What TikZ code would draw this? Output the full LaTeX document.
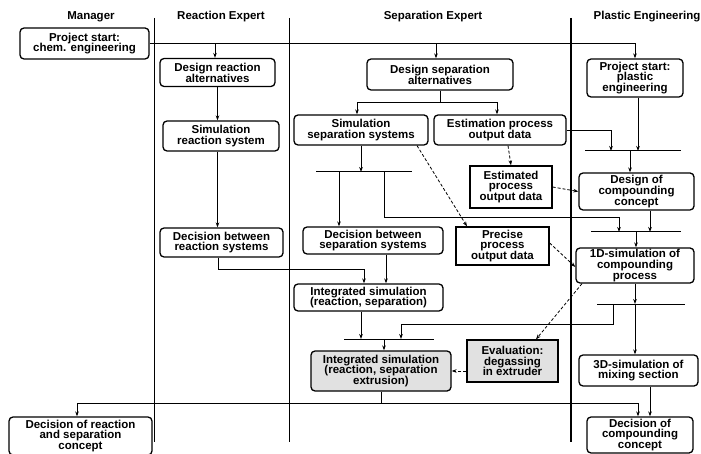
\documentclass[tikz,border=0pt]{standalone}
\usepackage{fontspec}
\setmainfont{Liberation Sans}
\usetikzlibrary{arrows.meta}
\definecolor{lgray}{RGB}{225,225,225}
\newcommand{\bxf}{\fontsize{11.5}{10.8}\selectfont\bfseries}
\tikzset{
  box/.style={draw, line width=1.3pt, rounded corners=4pt, fill=white, align=center, font=\bxf, inner sep=0pt},
  sqbox/.style={box, rounded corners=0pt},
  hdr/.style={font=\bxf, inner sep=0pt},
  arr/.style={-{Stealth[length=5pt,width=3.6pt]}, line width=0.8pt},
  darr/.style={arr, dash pattern=on 3pt off 2pt},
  plain/.style={line width=0.8pt},
  barline/.style={line width=1pt},
  lane/.style={line width=0.8pt},
  thicklane/.style={line width=2.6pt},
}
\begin{document}
\begin{tikzpicture}[x=1pt,y=-1pt]
\useasboundingbox (0,0) rectangle (701,454);
% lanes
\draw[lane] (154,18) -- (154,442);
\draw[lane] (289,18) -- (289,442);
\draw[thicklane] (571,18) -- (571,442);
% headers
\node[hdr] (h1) at (91,17) {Manager};
\node[hdr] (h2) at (221,17) {Reaction Expert};
\node[hdr] (h3) at (433,17) {Separation Expert};
\node[hdr] (h4) at (647,17) {Plastic Engineering};
% nodes
\node[box, minimum width=129pt, minimum height=31pt] (ps) at (84.5,43.5) {Project start:\\chem. engineering};
\node[box, minimum width=115pt, minimum height=28pt] (dra) at (217.5,72.5) {Design reaction\\alternatives};
\node[box, minimum width=116pt, minimum height=30pt] (srs) at (221,136) {Simulation\\reaction system};
\node[box, minimum width=123pt, minimum height=29pt] (dbr) at (221.5,242.5) {Decision between\\reaction systems};
\node[box, minimum width=146pt, minimum height=31pt] (dsa) at (440,74.5) {Design separation\\alternatives};
\node[box, minimum width=96pt, minimum height=38pt] (psp) at (635,78) {Project start:\\plastic\\engineering};
\node[box, minimum width=134pt, minimum height=30pt] (sss) at (361,130) {Simulation\\separation systems};
\node[box, minimum width=132pt, minimum height=30pt] (epo) at (500,130) {Estimation process\\output data};
\node[sqbox, minimum width=82pt, minimum height=42pt] (est) at (511,187) {Estimated\\process\\output data};
\node[box, minimum width=115pt, minimum height=37pt] (dcc) at (636.5,191.5) {Design of\\compounding\\concept};
\node[box, minimum width=140pt, minimum height=27pt] (dbs) at (373,240.5) {Decision between\\separation systems};
\node[sqbox, minimum width=93pt, minimum height=38pt] (ppo) at (502.5,246) {Precise\\process\\output data};
\node[box, minimum width=118pt, minimum height=35pt] (oned) at (635,265.5) {1D-simulation of\\compounding\\process};
\node[box, minimum width=149pt, minimum height=27pt] (isr) at (368.5,297.5) {Integrated simulation\\(reaction, separation)};
\node[box, fill=lgray, minimum width=140pt, minimum height=40pt] (ise) at (381,371) {Integrated simulation\\(reaction, separation\\extrusion)};
\node[sqbox, fill=lgray, minimum width=91pt, minimum height=42pt] (eva) at (512.5,361) {Evaluation:\\degassing\\in extruder};
\node[box, minimum width=119pt, minimum height=31pt] (tds) at (638.5,370.5) {3D-simulation of\\mixing section};
\node[box, minimum width=106pt, minimum height=36pt] (dcp) at (640,435) {Decision of\\compounding\\concept};
\node[box, minimum width=143pt, minimum height=38pt] (drs) at (80.5,436) {Decision of reaction\\and separation\\concept};
% synchronisation bars
\coordinate (bAl) at (316,172); \coordinate (bAr) at (412,172);
\coordinate (bBl) at (585,151); \coordinate (bBr) at (681,151);
\coordinate (bCl) at (591,232); \coordinate (bCr) at (681,232);
\coordinate (bDl) at (597,304); \coordinate (bDr) at (685,304);
\coordinate (bEl) at (344,339); \coordinate (bEr) at (434,339);
\draw[barline] (bAl) -- (bAr);
\draw[barline] (bBl) -- (bBr);
\draw[barline] (bCl) -- (bCr);
\draw[barline] (bDl) -- (bDr);
\draw[barline] (bEl) -- (bEr);
% attachment points
\coordinate (a1) at (339,172);
\coordinate (a2) at (384,172);
\coordinate (k1) at (619,217);
\coordinate (c1) at (619,232);
\coordinate (b1) at (611,151);
\coordinate (b2) at (630,151);
\coordinate (c2) at (650,232);
\coordinate (c3) at (636,232);
\coordinate (d1) at (613,304);
\coordinate (k2) at (401,324);
\coordinate (e1) at (401,339);
\coordinate (e2) at (361,339);
\coordinate (e3) at (384,339);
\coordinate (k3) at (364,269);
\coordinate (k4) at (381,403);
\coordinate (j0) at (0,102);
% connectors
\draw[arr] (ps.east) -| (psp.north);
\draw[arr] ([xshift=-2.5pt]dra.north |- ps.east) -- ([xshift=-2.5pt]dra.north);
\draw[arr] ([xshift=-4pt]dsa.north |- ps.east) -- ([xshift=-4pt]dsa.north);
\draw[arr] (dra.south) -- (dra.south |- srs.north);
\draw[arr] (srs.south -| dra.south) -- (dbr.north -| dra.south);
\draw[plain] (dsa.south) -- (dsa.south |- j0);
\draw[arr] (dsa.south |- j0) -| ([xshift=-4pt]sss.north);
\draw[arr] (dsa.south |- j0) -| ([xshift=-3pt]epo.north);
\draw[arr] (sss.south) -- (sss.south |- bAl);
\draw[arr] (a1) -- (a1 |- dbs.north);
\draw[arr] (a2) |- (k1) -- (c1);
\draw[arr] (epo.east) -| (b1);
\draw[arr] ([xshift=3pt]psp.south) -- ([xshift=3pt]psp.south |- b1);
\draw[arr] (b2) -- (b2 |- dcc.north);
\draw[arr] (c2 |- dcc.south) -- (c2);
\draw[arr] (c3) -- (c3 |- oned.north);
\draw[arr] (oned.south) -- (oned.south |- bDl);
\draw[arr] (oned.south |- bDl) -- (oned.south |- tds.north);
\draw[arr] (d1) |- (k2) -- (e1);
\draw[arr] (e2 |- isr.south) -- (e2);
\draw[arr] (e3) -- (e3 |- ise.north);
\draw[arr] ([xshift=-3.5pt]dbr.south) |- (k3) -- (k3 |- isr.north);
\draw[arr] ([xshift=13pt]dbs.south) -- ([xshift=13pt]dbs.south |- isr.north);
\draw[plain] (ise.south) -- (k4);
\draw[arr] (k4) -| ([xshift=-3.5pt]drs.north);
\draw[arr] (k4) -| ([xshift=-2pt]dcp.north);
\draw[arr] ([xshift=11.5pt]tds.south) -- ([xshift=11.5pt]tds.south |- dcp.north);
% dashed information flows
\draw[darr] ([xshift=8pt]epo.south) -- (est.north);
\draw[darr] (est.east) -- (dcc.west);
\draw[darr] ([xshift=56pt]sss.south) -- ([xshift=-35.5pt]ppo.north);
\draw[darr] ([yshift=3pt]ppo.east) -- ([yshift=-1.5pt]oned.west);
\draw[darr] ([xshift=-53pt]oned.south) -- ([xshift=23.5pt]eva.north);
\draw[darr] (eva.west |- ise.east) -- (ise.east);
\end{tikzpicture}
\end{document}
